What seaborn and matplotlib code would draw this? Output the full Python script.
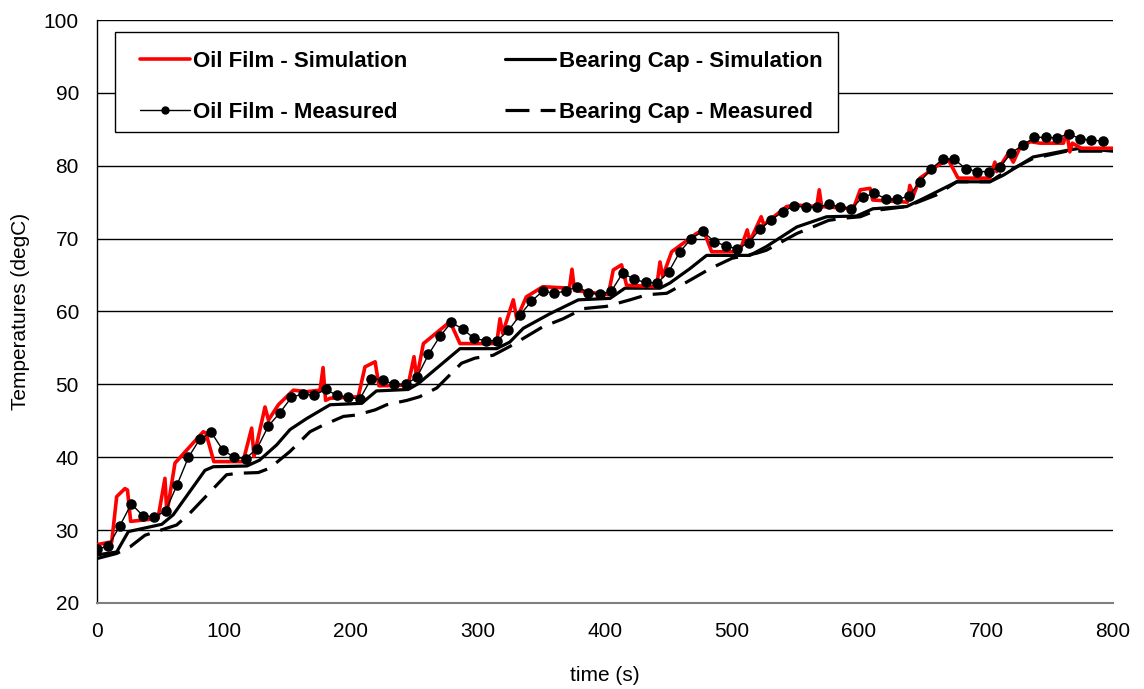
import numpy as np
import pandas as pd
import matplotlib
matplotlib.use("Agg")
import matplotlib.pyplot as plt
import seaborn as sns
from matplotlib.lines import Line2D
from matplotlib.patches import Rectangle

# ---------------- data ----------------
# Oil Film - Measured (sampled every ~9 s)
meas_oil_t = [0, 9, 18, 27, 36, 45, 54, 63, 72, 81, 90, 99, 108, 117, 126, 135, 144, 153,
              162, 171, 180, 189, 198, 207, 216, 225, 234, 243, 252, 261, 270, 279, 288,
              297, 306, 315, 324, 333, 342, 351, 360, 369, 378, 387, 396, 405, 414, 423,
              432, 441, 450, 459, 468, 477, 486, 495, 504, 513, 522, 531, 540, 549, 558,
              567, 576, 585, 594, 603, 612, 621, 630, 639, 648, 657, 666, 675, 684, 693,
              702, 711, 720, 729, 738, 747, 756, 765, 774, 783, 792]
meas_oil_T = [27.4, 27.8, 30.6, 33.6, 32.0, 31.8, 32.6, 36.2, 40.0, 42.5, 43.4, 41.0, 40.0,
              39.8, 41.2, 44.3, 46.1, 48.2, 48.7, 48.5, 49.3, 48.5, 48.2, 48.0, 50.8, 50.6,
              50.0, 50.0, 51.0, 54.1, 56.6, 58.5, 57.6, 56.3, 56.0, 56.0, 57.4, 59.5, 61.4,
              62.8, 62.5, 62.8, 63.4, 62.6, 62.4, 62.8, 65.3, 64.4, 64.0, 63.9, 65.4, 68.2,
              70.0, 71.0, 69.6, 69.0, 68.6, 69.4, 71.3, 72.6, 73.7, 74.5, 74.3, 74.3, 74.7,
              74.4, 74.1, 75.7, 76.2, 75.5, 75.4, 75.8, 77.8, 79.6, 80.9, 80.9, 79.6, 79.2,
              79.2, 79.8, 81.8, 82.8, 83.9, 83.9, 83.8, 84.4, 83.7, 83.5, 83.4]

# Oil Film - Simulation
sim_oil_t = [0, 11.6, 15.5, 22, 24, 26.5, 48, 53.5, 55, 61.4, 83.7, 85.8, 92, 115, 121.8,
             123.6, 132.3, 135, 142.8, 154.6, 165, 175.6, 178, 180, 183.5, 205.7, 211, 219,
             222, 245, 249.6, 251.7, 257, 276.6, 278, 285.8, 314.7, 317.3, 319.4, 327.8,
             330.5, 338, 351, 372, 374, 376, 402.6, 406.5, 413, 417, 440.7, 443.3, 445.4,
             452.5, 472, 477.4, 484, 506, 512, 514, 523, 525, 543, 551, 566.7, 568.7, 570.6,
             595.5, 601, 608.7, 610.8, 638, 640, 643, 648, 662.5, 670.4, 678, 703, 707,
             708.4, 717.6, 721.5, 727, 735, 742.5, 761, 763.5, 766, 768, 775, 800]
sim_oil_T = [28.0, 28.4, 34.6, 35.7, 35.5, 31.2, 31.6, 37.1, 32.3, 39.2, 43.5, 43.3, 39.4,
             39.4, 44.0, 40.1, 46.9, 45.1, 47.2, 49.2, 49.0, 49.2, 52.3, 47.8, 48.1, 48.3,
             52.4, 53.1, 49.8, 49.9, 53.8, 50.8, 55.6, 58.4, 58.6, 55.6, 55.6, 59.0, 57.0,
             61.6, 59.0, 62.0, 63.4, 63.2, 65.8, 62.9, 62.3, 65.7, 66.4, 63.6, 63.4, 66.8,
             64.8, 68.2, 70.7, 71.2, 68.2, 68.2, 71.2, 69.6, 73.0, 71.9, 74.4, 74.6, 74.4,
             76.7, 74.4, 74.1, 76.7, 76.9, 75.3, 75.0, 77.3, 76.0, 78.3, 80.1, 80.8, 78.3,
             78.3, 80.5, 79.2, 81.7, 80.5, 82.6, 83.3, 83.1, 83.1, 84.7, 81.9, 83.1, 82.4,
             82.4]

# Bearing Cap - Simulation
sim_cap_t = [0, 15.5, 24.7, 51, 60, 85, 91.6, 118, 128, 141.5, 152, 165, 183.5, 208.4, 220,
             245, 253, 285.8, 314.7, 325, 335.7, 356.7, 379, 404, 415.7, 443.3, 451, 467,
             480, 514, 527, 551, 574.5, 598, 611, 637.5, 650.6, 677, 703, 713.6, 737, 763.5,
             774, 800]
sim_cap_T = [26.6, 27.0, 29.8, 30.8, 32.1, 38.2, 38.7, 38.8, 39.6, 41.7, 43.8, 45.3, 47.2,
             47.4, 49.1, 49.3, 50.1, 54.9, 54.9, 55.8, 57.7, 59.7, 61.6, 61.8, 63.2, 63.2,
             63.9, 65.9, 67.7, 67.7, 68.9, 71.6, 73.0, 73.1, 74.1, 74.4, 75.5, 77.8, 77.8,
             78.7, 81.2, 82.1, 82.4, 82.0]

# Bearing Cap - Measured
meas_cap_t = [0, 15.5, 26, 37.8, 62.7, 73, 102, 111, 127, 136, 152, 167.7, 178, 194, 204.5,
              219, 228, 244, 254, 267.5, 287, 297.6, 312, 325, 351, 367, 383, 401, 419.7,
              433, 448.6, 456, 467, 483, 500, 519.5, 527, 551, 576, 587.6, 601, 614, 637.5,
              661, 677, 703, 711, 737, 763.5, 800]
meas_cap_T = [26.1, 26.8, 27.7, 29.3, 30.7, 32.3, 37.6, 37.8, 37.9, 38.5, 40.8, 43.5, 44.4,
              45.6, 45.8, 46.5, 47.2, 47.8, 48.3, 49.5, 52.9, 53.6, 54.0, 55.2, 57.9, 59.0,
              60.4, 60.7, 61.6, 62.3, 62.5, 63.2, 64.3, 65.9, 67.3, 68.0, 68.4, 70.7, 72.5,
              72.8, 73.0, 73.9, 74.4, 76.0, 77.8, 77.8, 78.7, 81.0, 82.0, 82.0]

labels = ["Oil Film - Simulation", "Oil Film - Measured",
          "Bearing Cap - Simulation", "Bearing Cap - Measured"]
x_ticks = [0, 100, 200, 300, 400, 500, 600, 700, 800]
y_ticks = [20, 30, 40, 50, 60, 70, 80, 90, 100]

# ---------------- style ----------------
sns.set_style("white")
plt.rcParams["font.family"] = ["Liberation Sans", "DejaVu Sans"]
plt.rcParams["text.color"] = "black"
plt.rcParams["axes.labelcolor"] = "black"
plt.rcParams["xtick.color"] = "black"
plt.rcParams["ytick.color"] = "black"

W, H = 1144, 689
fig = plt.figure(figsize=(W / 100, H / 100), dpi=100)
ax = fig.add_axes([97 / W, 1 - 603 / H, (1113 - 97) / W, (603 - 20) / H])

ax.set_axisbelow(True)
ax.yaxis.grid(True, color="black", linewidth=1.0)
ax.xaxis.grid(False)

DASH = (0, (7.5, 3.5))

sns.lineplot(x=meas_cap_t, y=meas_cap_T, ax=ax, color="black", linewidth=2.3,
             linestyle=DASH, estimator=None, sort=False, legend=False, zorder=3)
sns.lineplot(x=sim_cap_t, y=sim_cap_T, ax=ax, color="black", linewidth=2.3,
             estimator=None, sort=False, legend=False, zorder=4)
sns.lineplot(x=sim_oil_t, y=sim_oil_T, ax=ax, color="#ff0000", linewidth=2.6,
             estimator=None, sort=False, legend=False, zorder=5)
sns.lineplot(x=meas_oil_t, y=meas_oil_T, ax=ax, color="black", linewidth=1.0,
             marker="o", markersize=7.6, markeredgewidth=0, estimator=None, sort=False,
             legend=False, zorder=6)

ax.set_xlim(0, 800)
ax.set_ylim(20, 100)
ax.set_xticks(x_ticks)
ax.set_yticks(y_ticks)
ax.tick_params(axis="both", labelsize=15, direction="out", length=6, width=1,
               colors="black", labelcolor="black", pad=7)
ax.tick_params(axis="x", color="#808080", pad=8)

for s in ["top", "right"]:
    ax.spines[s].set_visible(False)
ax.spines["left"].set_color("black")
ax.spines["left"].set_linewidth(1.0)
ax.spines["bottom"].set_color("#808080")
ax.spines["bottom"].set_linewidth(1.5)

ax.set_xlabel("time (s)", fontsize=15, labelpad=18, color="black")
ax.set_ylabel("Temperatures (degC)", fontsize=15, labelpad=10, color="black")

# legend frame
frame = Rectangle((115 / W, 1 - 132 / H), (838 - 115) / W, (132 - 32) / H,
                  transform=fig.transFigure, facecolor="white", edgecolor="black",
                  linewidth=1.0, zorder=9, clip_on=False)
ax.add_patch(frame)

handles = [
    Line2D([], [], color="#ff0000", linewidth=2.6),
    Line2D([], [], color="black", linewidth=1.0, marker="o", markersize=6, markeredgewidth=0),
    Line2D([], [], color="black", linewidth=2.3),
    Line2D([], [], color="black", linewidth=2.3, linestyle=DASH),
]
leg = ax.legend(handles, labels, ncol=2, loc="upper left",
                bbox_to_anchor=(140 / W, 1 - 51 / H), bbox_transform=fig.transFigure,
                prop={"weight": "bold", "size": 16}, frameon=False,
                handlelength=2.25, handletextpad=0.15,
                columnspacing=4.4, labelspacing=1.33, borderpad=0,
                borderaxespad=0, labelcolor="black")
leg.set_zorder(10)

fig.savefig("out.png", dpi=100, facecolor="white")
